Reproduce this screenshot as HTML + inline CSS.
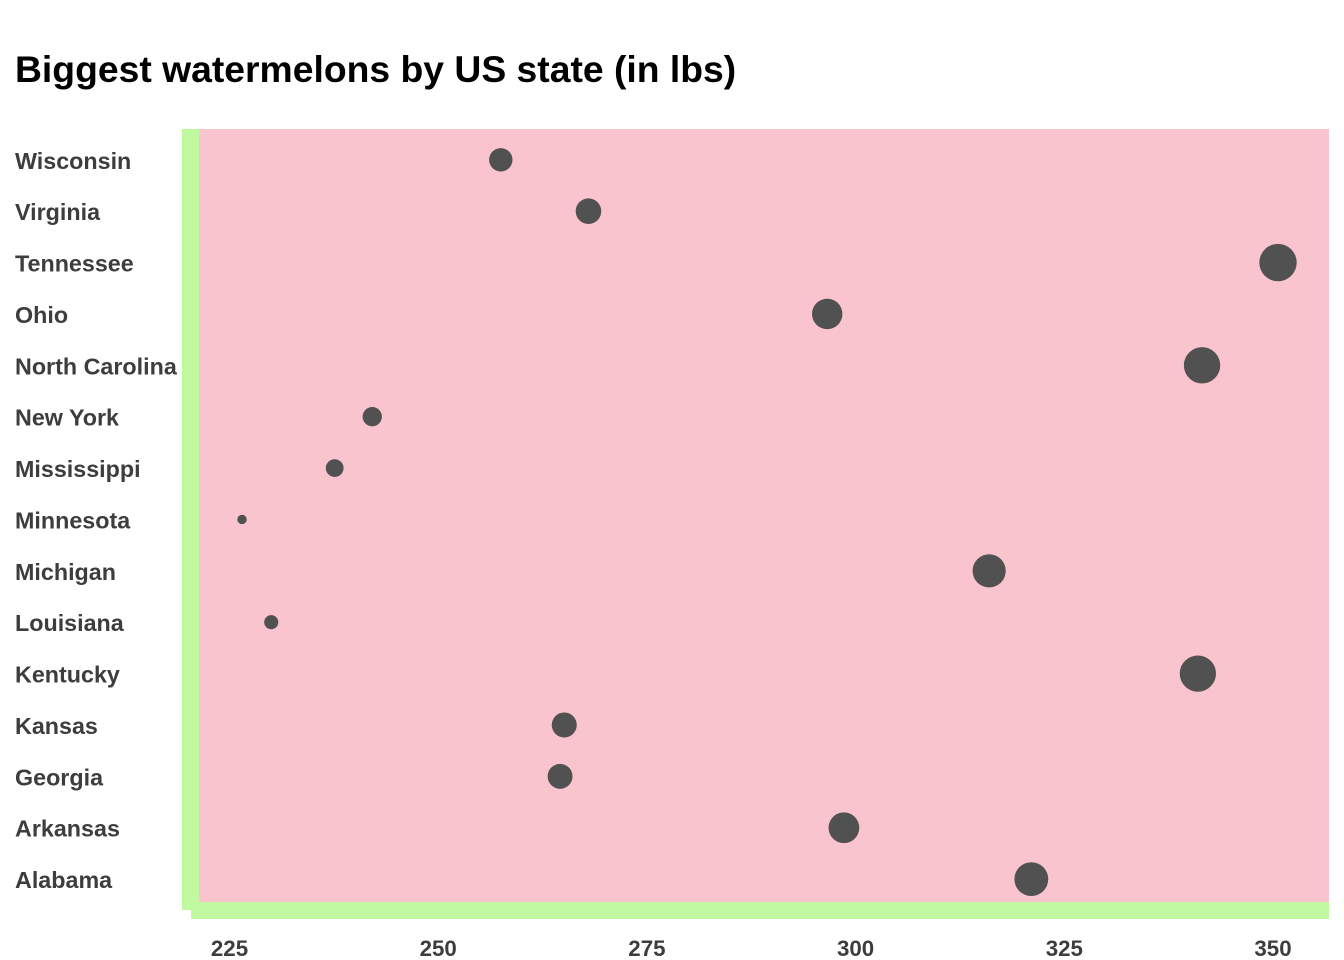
<!DOCTYPE html>
<html>
<head>
<meta charset="utf-8">
<style>
html,body{margin:0;padding:0;background:#fff;width:1344px;height:960px;overflow:hidden}
svg{display:block}
text{font-family:"Liberation Sans",sans-serif;font-weight:bold}
</style>
</head>
<body>
<svg id="chart" width="1344" height="960" viewBox="0 0 1344 960" xmlns="http://www.w3.org/2000/svg">
  <rect x="0" y="0" width="1344" height="960" fill="#ffffff"/>
  <text x="15" y="82" font-size="37.3" fill="#000000">Biggest watermelons by US state (in lbs)</text>
  <rect x="182" y="129" width="17" height="781" fill="#c1f9a0"/>
  <rect x="191" y="902" width="1138" height="17" fill="#c1f9a0"/>
  <rect x="199" y="129" width="1130" height="773" fill="#fac4ce"/>
  <g id="y-labels"></g>
  <g id="x-labels"></g>
  <g id="points"></g>
</svg>
<script>
const states = ["Wisconsin","Virginia","Tennessee","Ohio","North Carolina","New York","Mississippi","Minnesota","Michigan","Louisiana","Kentucky","Kansas","Georgia","Arkansas","Alabama"];
const weights = [257.5,268.0,350.6,296.6,341.5,242.1,237.6,226.5,316.0,230.0,341.0,265.1,264.6,298.6,321.05];
const xTicks = [225,250,275,300,325,350];

const NS = "http://www.w3.org/2000/svg";
function xScale(v){ return 229.5 + (v - 225) * 8.348; }
function yScale(i){ return 159.8 + i * 51.38; }
function rScale(v){
  const lo = Math.min.apply(null, weights), hi = Math.max.apply(null, weights);
  return 4.7 + 14.0 * Math.sqrt((v - lo) / (hi - lo));
}
const yGroup = document.getElementById("y-labels");
const xGroup = document.getElementById("x-labels");
const pGroup = document.getElementById("points");

states.forEach(function(s, i){
  const t = document.createElementNS(NS, "text");
  
  
  t.setAttribute("x", 15);
  t.setAttribute("y", yScale(i) + 9);
  t.setAttribute("font-size", "23.3");
  t.setAttribute("fill", "#3d3d3d");
  t.textContent = s;
  yGroup.appendChild(t);

  const c = document.createElementNS(NS, "circle");
  
  
  c.setAttribute("cx", xScale(weights[i]));
  c.setAttribute("cy", yScale(i));
  c.setAttribute("r", rScale(weights[i]));
  c.setAttribute("fill", "#515151");
  pGroup.appendChild(c);
});

xTicks.forEach(function(v){
  const t = document.createElementNS(NS, "text");
  
  
  t.setAttribute("x", xScale(v));
  t.setAttribute("y", 956);
  t.setAttribute("text-anchor", "middle");
  t.setAttribute("font-size", "22.3");
  t.setAttribute("fill", "#3d3d3d");
  t.textContent = v;
  xGroup.appendChild(t);
});
</script>
</body>
</html>
